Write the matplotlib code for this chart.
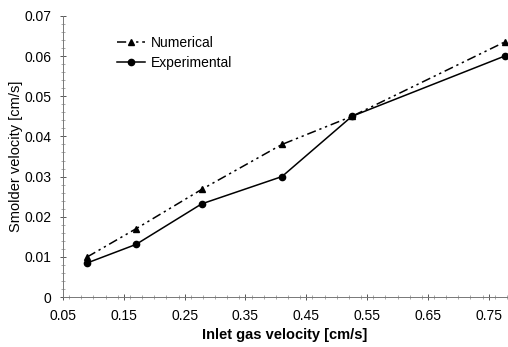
import matplotlib.pyplot as plt
from matplotlib.ticker import MultipleLocator, FixedLocator

plt.rcParams['font.family'] = ['Liberation Sans', 'DejaVu Sans']

inlet_velocity = [0.09, 0.17, 0.278, 0.41, 0.525, 0.776]
numerical = [0.0100, 0.0170, 0.0268, 0.0380, 0.0450, 0.0635]
experimental = [0.0085, 0.0131, 0.0232, 0.0300, 0.0450, 0.0600]
x_ticks = [0.05, 0.15, 0.25, 0.35, 0.45, 0.55, 0.65, 0.75]
y_ticks = [0, 0.01, 0.02, 0.03, 0.04, 0.05, 0.06, 0.07]

fig = plt.figure(figsize=(5.08, 3.47), dpi=100)
ax = fig.add_axes([0.124, 0.144, 0.874, 0.81])

ax.plot(inlet_velocity, numerical, color='black', lw=1.1, marker='^', ms=4.5,
        dashes=(6, 2.5, 1.5, 2.5, 1.5, 2.5), label='Numerical')
ax.plot(inlet_velocity, experimental, color='black', lw=1.1, marker='o', ms=4.5,
        label='Experimental')

ax.set_xlim(0.05, 0.78)
ax.set_ylim(0, 0.07)
ax.xaxis.set_major_locator(FixedLocator(x_ticks))
ax.yaxis.set_major_locator(FixedLocator(y_ticks))
ax.xaxis.set_minor_locator(MultipleLocator(0.02))
ax.yaxis.set_minor_locator(MultipleLocator(0.002))
ax.set_xticklabels([f'{v:.2f}' for v in x_ticks])
ax.set_yticklabels(['0'] + [f'{v:.2f}' for v in y_ticks[1:]])

for s in ['top', 'right']:
    ax.spines[s].set_visible(False)
for s in ['left', 'bottom']:
    ax.spines[s].set_color('#777777')
    ax.spines[s].set_linewidth(0.7)
ax.tick_params(which='major', direction='inout', length=5, width=0.7,
               color='#555555', labelsize=10, pad=6)
ax.tick_params(which='minor', direction='inout', length=2.5, width=0.5,
               color='#888888')

ax.set_xlabel('Inlet gas velocity [cm/s]', fontsize=10.5, fontweight='bold', labelpad=4)
ax.set_ylabel('Smolder velocity [cm/s]', fontsize=10.5, labelpad=1)

ax.legend(loc='upper left', bbox_to_anchor=(0.11, 0.95), frameon=False,
          fontsize=10, handlelength=2.0, handletextpad=0.4, labelspacing=0.45,
          borderaxespad=0)

fig.savefig('out.png', dpi=100)
